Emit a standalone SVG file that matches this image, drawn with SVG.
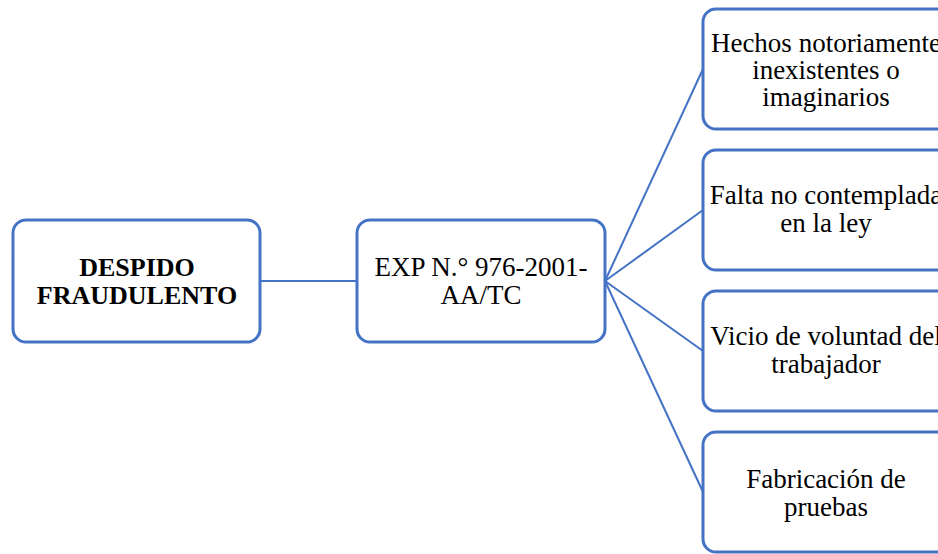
<svg xmlns="http://www.w3.org/2000/svg" width="938" height="554" viewBox="0 0 938 554">
<style>
.box{fill:#fff;stroke:#4472C4;stroke-width:3}
.con{stroke:#4472C4;stroke-width:2;fill:none}
text{font-family:"Liberation Serif","Times New Roman",serif;font-size:27px;fill:#000;text-anchor:middle}
.b{font-weight:bold;font-size:26px}
</style>
<rect width="938" height="554" fill="#fff"/>
<g id="connectors">
<line class="con" x1="260" y1="281" x2="357" y2="281"/>
<line class="con" x1="605" y1="281" x2="703" y2="69"/>
<line class="con" x1="605" y1="281" x2="703" y2="210"/>
<line class="con" x1="605" y1="281" x2="703" y2="351"/>
<line class="con" x1="605" y1="281" x2="703" y2="492"/>
</g>
<g id="n-despido">
<rect class="box" x="13" y="220" width="247" height="122" rx="13"/>
<text class="b" x="137" y="276">DESPIDO</text>
<text class="b" x="137" y="304">FRAUDULENTO</text>
</g>
<g id="n-exp">
<rect class="box" x="357" y="220" width="248" height="122" rx="13"/>
<text x="481" y="276">EXP N.° 976-2001-</text>
<text x="481" y="304">AA/TC</text>
</g>
<g id="n-hechos">
<rect class="box" x="703" y="9" width="248" height="120" rx="13"/>
<text x="826" y="52">Hechos notoriamente</text>
<text x="826" y="79">inexistentes o</text>
<text x="826" y="106">imaginarios</text>
</g>
<g id="n-falta">
<rect class="box" x="703" y="150" width="248" height="120" rx="13"/>
<text x="826" y="204">Falta no contemplada</text>
<text x="826" y="232">en la ley</text>
</g>
<g id="n-vicio">
<rect class="box" x="703" y="291" width="248" height="120" rx="13"/>
<text x="826" y="345">Vicio de voluntad del</text>
<text x="826" y="373">trabajador</text>
</g>
<g id="n-fabricacion">
<rect class="box" x="703" y="432" width="248" height="120" rx="13"/>
<text x="826" y="488">Fabricación de</text>
<text x="826" y="516">pruebas</text>
</g>
</svg>
